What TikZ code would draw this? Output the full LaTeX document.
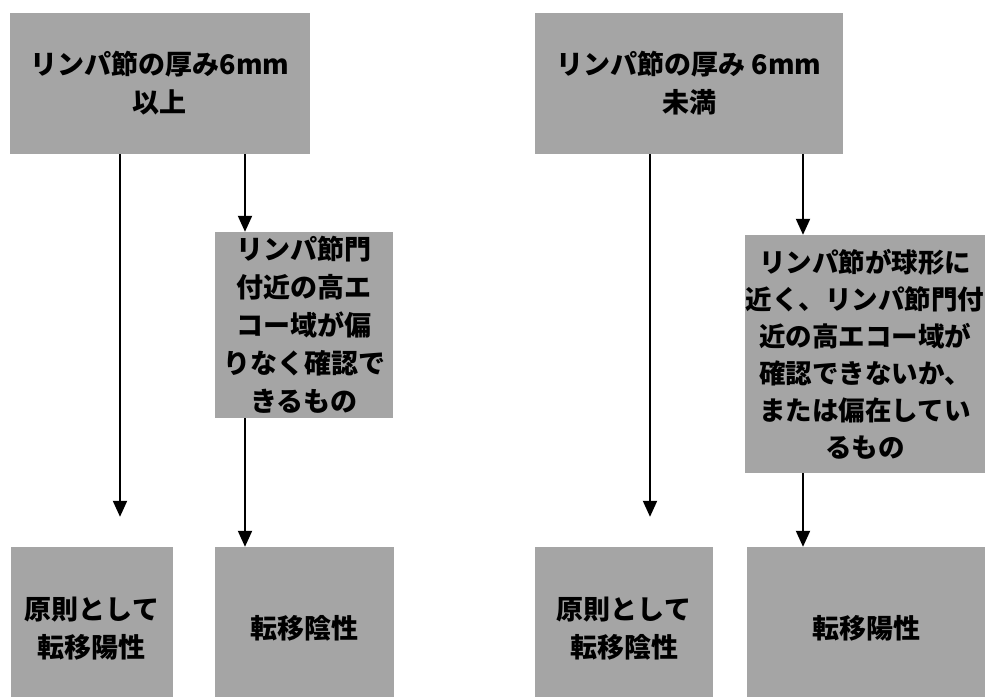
\documentclass[tikz,border=0pt]{standalone}
\usepackage{fontspec}
\newfontfamily\cjk{Noto Sans CJK JP}
\usetikzlibrary{arrows.meta}
\definecolor{boxgray}{RGB}{165,165,165}
\tikzset{
  box/.style={fill=boxgray, draw=none, inner sep=0pt, align=center, text=black,
    font=\cjk\bfseries\fontsize{27}{38}\selectfont},
  arr/.style={line width=2pt, -{Triangle[width=14pt,length=16pt]}},
}
\begin{document}
\begin{tikzpicture}[x=1pt,y=-1pt]
\useasboundingbox (0,0) rectangle (985,696);
\clip (0,0) rectangle (985,696);
\node[box, minimum width=300pt, minimum height=141pt] (A) at (160,83.5) {リンパ節の厚み6mm\\以上};
\node[box, minimum width=308pt, minimum height=141pt] (B) at (689,83.5) {リンパ節の厚み 6mm\\未満};
\node[box, minimum width=178pt, minimum height=186pt] (D) at (304,325) {リンパ節門\\付近の高エ\\コー域が偏\\りなく確認で\\きるもの};
\node[box, minimum width=240pt, minimum height=238pt, font=\cjk\bfseries\fontsize{26.5}{37}\selectfont] (F) at (865,354) {リンパ節が球形に\\近く、リンパ節門付\\近の高エコー域が\\確認できないか、\\または偏在してい\\るもの};
\node[box, minimum width=162pt, minimum height=163pt] (C) at (92,628.5) {原則として\\転移陽性};
\node[box, minimum width=179pt, minimum height=163pt] (E) at (304.5,628.5) {転移陰性};
\node[box, minimum width=178pt, minimum height=163pt] (H) at (624,628.5) {原則として\\転移陰性};
\node[box, minimum width=238pt, minimum height=163pt] (G) at (866,628.5) {転移陽性};
\coordinate (x1) at (120,0);
\coordinate (x2) at (245,0);
\coordinate (x3) at (650,0);
\coordinate (x4) at (803,0);
\draw[arr, shorten >=30pt] (A.south -| x1) -- (C.north -| x1);
\draw[arr] (A.south -| x2) -- (D.north -| x2);
\draw[arr] (D.south -| x2) -- (E.north -| x2);
\draw[arr, shorten >=30pt] (B.south -| x3) -- (H.north -| x3);
\draw[arr] (B.south -| x4) -- (F.north -| x4);
\draw[arr] (F.south -| x4) -- (G.north -| x4);
\end{tikzpicture}
\end{document}
